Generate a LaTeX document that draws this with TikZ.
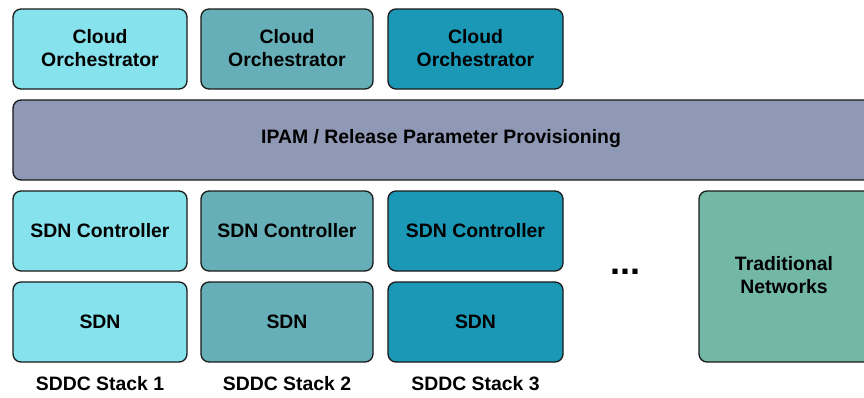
\documentclass[tikz,border=0pt]{standalone}
\usepackage{fontspec}
\setmainfont{Liberation Sans}
\begin{document}
\begin{tikzpicture}[x=1pt,y=-1pt,
  blk/.style={draw=black!90,line width=1.3pt,rounded corners=8pt},
  lbl/.style={font=\fontsize{19.4}{22.5}\selectfont\bfseries,align=center},
]
\definecolor{cA}{HTML}{86E2EC}
\definecolor{cB}{HTML}{67AFB8}
\definecolor{cC}{HTML}{1A98B6}
\definecolor{cIpam}{HTML}{8F98B5}
\definecolor{cTrad}{HTML}{72B8A5}
\useasboundingbox (0,0) rectangle (864,397);
\clip (0,0) rectangle (864,397);
% one column per SDDC stack
\foreach \c/\xa/\xb/\n in {cA/13/187/1,cB/201/373/2,cC/388/563/3}{
  \draw[blk,fill=\c] (\xa,9) rectangle (\xb,89);
  \node[lbl] (orch\n) at ({(\xa+\xb)/2},48) {Cloud\\Orchestrator};
  \draw[blk,fill=\c] (\xa,191) rectangle (\xb,271);
  \node[lbl] (ctl\n) at ({(\xa+\xb)/2},231) {SDN Controller};
  \draw[blk,fill=\c] (\xa,282) rectangle (\xb,362);
  \node[lbl] (sdn\n) at ({(\xa+\xb)/2},322) {SDN};
  \node[lbl] (stack\n) at ({(\xa+\xb)/2},384) {SDDC Stack \n};
}
% provisioning layer
\draw[blk,fill=cIpam] (13,100) rectangle (900,180);
\node[lbl] (ipam) at (441,139) {IPAM / Release Parameter Provisioning};
% traditional networks
\draw[blk,fill=cTrad] (699,191) rectangle (900,362);
\node[lbl] (trad) at (784,275) {Traditional\\Networks};
\node[font=\fontsize{36}{36}\selectfont\bfseries,anchor=base] (dots) at (625,274) {...};
\end{tikzpicture}
\end{document}
